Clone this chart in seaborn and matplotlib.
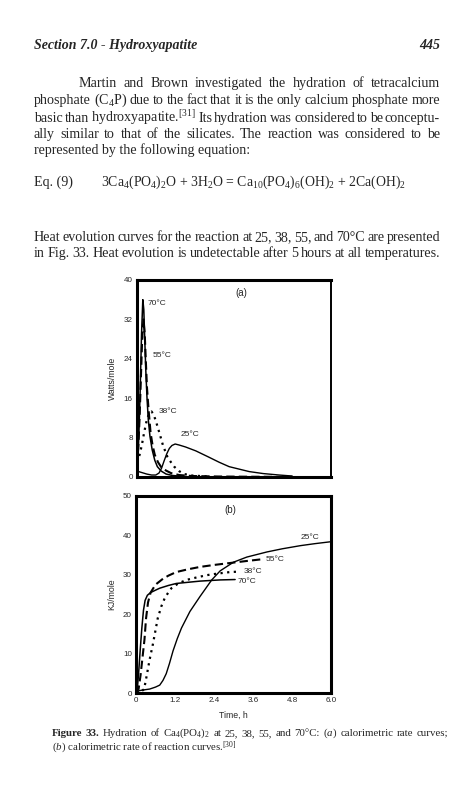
import numpy as np
import pandas as pd
import seaborn as sns
import matplotlib
matplotlib.use('Agg')
import matplotlib.pyplot as plt

# ---- data ----
# (a) calorimetric rate, Watts/mole vs time (h)
t25a = [0, 0.15, 0.3, 0.45, 0.58, 0.68, 0.76, 0.84, 0.92, 1.0, 1.08, 1.18, 1.3, 1.5,
        1.82, 2.2, 2.54, 2.85, 3.16, 3.47, 3.9, 4.4, 4.8]
w25a = [1.2, 0.9, 0.6, 0.4, 0.4, 0.8, 1.8, 3.3, 4.7, 5.8, 6.4, 6.7, 6.5, 6.1,
        5.3, 4.1, 3.0, 2.1, 1.6, 1.1, 0.7, 0.4, 0.2]
t38a = [0, 0.08, 0.15, 0.22, 0.3, 0.38, 0.45, 0.52, 0.6, 0.7, 0.8, 0.94, 1.05, 1.15,
        1.3, 1.46, 1.7, 2.2]
w38a = [3.0, 4.5, 6.5, 9.0, 11.5, 13.0, 13.3, 12.6, 11.0, 8.8, 6.5, 4.1, 3.0, 2.1,
        1.2, 0.6, 0.3, 0.1]
t55a = [0, 0.04, 0.08, 0.12, 0.16, 0.2, 0.24, 0.27, 0.31, 0.36, 0.42, 0.48, 0.55,
        0.65, 0.75, 0.9, 1.05, 1.3, 1.7, 2.5, 3.5, 4.8]
w55a = [2.5, 6.0, 12.0, 20.0, 28.0, 32.0, 29.0, 24.0, 18.0, 13.5, 9.0, 6.5, 4.5,
        3.0, 2.0, 1.3, 0.8, 0.4, 0.2, 0.1, 0.05, 0.03]
t70a = [0, 0.03, 0.06, 0.1, 0.14, 0.18, 0.21, 0.24, 0.27, 0.31, 0.35, 0.4, 0.47,
        0.55, 0.63, 0.75, 0.9, 1.1, 1.5]
w70a = [1.5, 4.0, 9.0, 18.0, 29.0, 36.0, 34.0, 28.0, 22.0, 16.0, 11.6, 8.3, 5.5,
        3.4, 2.1, 1.2, 0.6, 0.3, 0.1]

# (b) cumulative heat, KJ/mole vs time (h)
t25b = [0, 0.1, 0.25, 0.42, 0.6, 0.73, 0.83, 0.93, 1.03, 1.14, 1.27, 1.4, 1.66, 1.97,
        2.33, 2.59, 3.0, 3.41, 4.03, 4.5, 5.06, 5.5, 6.0]
k25b = [0, 0.6, 0.8, 1.0, 1.5, 2.0, 3.2, 4.9, 7.5, 10.7, 13.8, 16.5, 20.7, 24.5,
        28.7, 31.0, 33.2, 34.5, 35.8, 36.6, 37.4, 37.9, 38.4]
t38b = [0, 0.15, 0.25, 0.32, 0.42, 0.52, 0.67, 0.78, 0.88, 1.0, 1.09, 1.3, 1.55, 1.85,
        2.17, 2.5, 2.9, 3.15]
k38b = [0, 0.3, 1.0, 4.0, 8.5, 12.4, 19.0, 22.0, 24.0, 25.6, 26.6, 27.8, 28.7, 29.3,
        29.9, 30.3, 30.7, 30.8]
t55b = [0, 0.08, 0.14, 0.2, 0.26, 0.31, 0.37, 0.45, 0.6, 0.83, 1.0, 1.24, 1.6, 1.97,
        2.4, 2.9, 3.4, 3.83]
k55b = [0, 1.0, 4.5, 9.0, 13.5, 19.0, 23.0, 25.5, 27.5, 29.0, 29.8, 30.7, 31.4, 32.0,
        32.5, 33.0, 33.5, 33.9]
t70b = [0, 0.04, 0.08, 0.13, 0.18, 0.23, 0.28, 0.35, 0.45, 0.6, 0.73, 1.0, 1.24, 1.6,
        1.97, 2.59, 3.05]
k70b = [0, 1.0, 5.0, 11.0, 16.5, 21.0, 23.5, 24.8, 25.5, 26.1, 26.6, 27.3, 27.8, 28.1,
        28.4, 28.7, 28.8]

temps = ['25°C', '38°C', '55°C', '70°C']
xticks_b = [0, 1.2, 2.4, 3.6, 4.8, 6.0]
xticklabels_b = ['0', '1.2', '2.4', '3.6', '4.8', '6.0']
yticks_a = [0, 8, 16, 24, 32, 40]
yticks_b = [0, 10, 20, 30, 40, 50]

sns.set_style('white')
plt.rcParams['font.family'] = ['Liberation Serif', 'DejaVu Serif']
plt.rcParams['mathtext.fontset'] = 'custom'
plt.rcParams['mathtext.rm'] = 'Liberation Serif'
plt.rcParams['mathtext.it'] = 'Liberation Serif:italic'
plt.rcParams['mathtext.bf'] = 'Liberation Serif:bold'

W, H = 473, 800
fig = plt.figure(figsize=(W / 100, H / 100), dpi=100)
renderer = fig.canvas.get_renderer()


def fx(x):
    return x / W


def fy(y):
    return 1 - y / H


def put_line(words, x0, x1, y, size):
    # justified line; words: list of str or (str, dict of text props)
    objs = []
    for w in words:
        if isinstance(w, tuple):
            txt, kw = w
        else:
            txt, kw = w, {}
        objs.append(fig.text(0, fy(y), txt, fontsize=size, va='baseline', **kw))
    widths = [o.get_window_extent(renderer).width for o in objs]
    gap = (x1 - x0 - sum(widths)) / (len(objs) - 1)
    x = x0
    for o, w in zip(objs, widths):
        o.set_x(fx(x))
        x += w + gap


# ---- page text ----
fig.text(fx(34), fy(49), 'Section 7.0 - Hydroxyapatite', fontsize=10, fontweight='bold',
         fontstyle='italic', va='baseline')
fig.text(fx(440), fy(49), '445', fontsize=10, fontweight='bold', fontstyle='italic',
         va='baseline', ha='right')

L, R = 34, 440
FS = 10.1
para = [
    ('Martin and Brown investigated the hydration of tetracalcium', 79, 87),
    ('phosphate (C$_4$P) due to the fact that it is the only calcium phosphate more', L, 104),
    ('basic than hydroxyapatite.$^{[31]}$ Its hydration was considered to be conceptu-', L, 122),
    ('ally similar to that of the silicates. The reaction was considered to be', L, 138),
]
for line, x0, y in para:
    put_line(line.split(' '), x0, R, y, FS)
fig.text(fx(L), fy(154), 'represented by the following equation:', fontsize=FS, va='baseline')

fig.text(fx(34), fy(186), 'Eq. (9)', fontsize=FS, va='baseline')
fig.text(fx(101), fy(186),
         '3Ca$_4$(PO$_4$)$_2$O + 3H$_2$O = Ca$_{10}$(PO$_4$)$_6$(OH)$_2$ + 2Ca(OH)$_2$',
         fontsize=FS * 0.985, va='baseline')

put_line('Heat evolution curves for the reaction at 25, 38, 55, and 70°C are presented'.split(' '),
         L, R, 241, FS)
put_line('in Fig. 33. Heat evolution is undetectable after 5 hours at all temperatures.'.split(' '),
         L, R, 257, FS)

bold = {'fontweight': 'bold'}
cap1 = [('Figure', bold), ('33.', bold)] + \
    'Hydration of Ca$_4$(PO$_4$)$_2$ at 25, 38, 55, and 70°C: ($a$) calorimetric rate curves;'.split(' ')
put_line(cap1, 52, 448, 736, 7.8)
fig.text(fx(52), fy(751), '($b$) calorimetric rate of reaction curves.$^{[30]}$',
         fontsize=7.8, va='baseline')

# ---- charts ----
sans = ['Liberation Sans', 'DejaVu Sans']
ax_a = fig.add_axes([137 / W, 1 - 477 / H, 194 / W, 197 / H])
ax_b = fig.add_axes([136 / W, 1 - 693 / H, 195 / W, 197 / H])

styles = {
    '25°C': dict(linestyle='-', lw=1.0),
    '38°C': dict(linestyle=(0, (1, 2)), lw=1.6),
    '55°C': dict(linestyle=(0, (4, 2)), lw=1.5),
    '70°C': dict(linestyle='-', lw=1.1),
}

df_a = pd.concat([
    pd.DataFrame({'time': t, 'value': v, 'temp': k})
    for t, v, k in zip([t25a, t38a, t55a, t70a], [w25a, w38a, w55a, w70a], temps)
])
df_b = pd.concat([
    pd.DataFrame({'time': t, 'value': v, 'temp': k})
    for t, v, k in zip([t25b, t38b, t55b, t70b], [k25b, k38b, k55b, k70b], temps)
])

for ax, df in [(ax_a, df_a), (ax_b, df_b)]:
    for k in temps:
        sub = df[df['temp'] == k]
        sns.lineplot(data=sub, x='time', y='value', ax=ax, color='black',
                     estimator=None, sort=False, **styles[k])
    ax.set_xlim(0, 6)
    for s in ax.spines.values():
        s.set_visible(True)
        s.set_linewidth(2.2)
        s.set_color('black')
    ax.tick_params(axis='both', direction='in', length=0, pad=3, labelsize=5.8)

ax_a.spines['right'].set_linewidth(1.4)
ax_a.set_ylim(0, 40)
ax_a.set_yticks(yticks_a)
ax_a.set_yticklabels([str(v) for v in yticks_a], family=sans)
ax_a.set_xticks([])
ax_a.set_xlabel('')
ax_a.set_ylabel('Watts/mole', fontsize=6.3, family=sans)
ax_a.yaxis.set_label_coords(-0.103, 0.5)

ax_b.set_ylim(0, 50)
ax_b.set_yticks(yticks_b)
ax_b.set_yticklabels([str(v) for v in yticks_b], family=sans)
ax_b.set_xticks(xticks_b)
ax_b.set_xticklabels(xticklabels_b, family=sans)
ax_b.set_xlabel('Time, h', fontsize=6.3, family=sans)
ax_b.xaxis.set_label_coords(0.5, -0.09)
ax_b.set_ylabel('KJ/mole', fontsize=6.3, family=sans)
ax_b.yaxis.set_label_coords(-0.103, 0.5)

# curve labels
lab_a = {'70°C': (0.34, 35.3), '55°C': (0.47, 24.6), '38°C': (0.68, 13.2), '25°C': (1.36, 8.7)}
for k, (x, y) in lab_a.items():
    ax_a.text(x, y, k, fontsize=6, family=sans, va='center', ha='left')
ax_a.text(3.22, 37.4, '(a)', fontsize=7, family=sans, ha='center', va='center')

lab_b = {'25°C': (5.06, 39.5), '55°C': (4.0, 34.0), '38°C': (3.3, 30.9), '70°C': (3.11, 28.4)}
for k, (x, y) in lab_b.items():
    ax_b.text(x, y, k, fontsize=6, family=sans, va='center', ha='left')
ax_b.text(2.9, 46.5, '(b)', fontsize=7, family=sans, ha='center', va='center')

fig.savefig('out.png', dpi=100)
